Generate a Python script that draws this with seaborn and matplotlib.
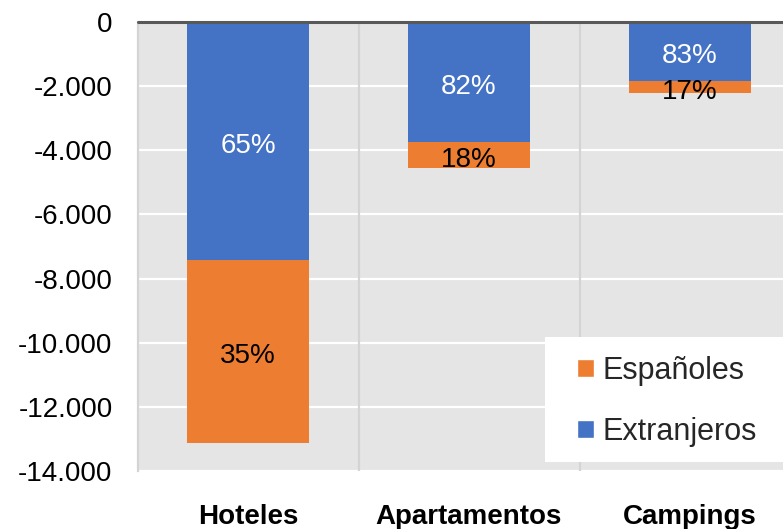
import matplotlib
matplotlib.use("Agg")
import matplotlib.pyplot as plt
import matplotlib.ticker as mticker
from matplotlib.patches import Patch, Rectangle
import seaborn as sns
import pandas as pd

categories = ["Hoteles", "Apartamentos", "Campings"]
extranjeros = [7435, 3745, 1840]
espanoles = [5680, 810, 365]
pct_extranjeros = ["65%", "82%", "83%"]
pct_espanoles = ["35%", "18%", "17%"]
yticks = [0, -2000, -4000, -6000, -8000, -10000, -12000, -14000]

ORANGE = "#ED7D31"
BLUE = "#4472C4"

sns.set_theme(style="white")
plt.rcParams["font.family"] = ["Liberation Sans", "DejaVu Sans"]

df = pd.DataFrame({
    "cat": categories,
    "total": [-(a + b) for a, b in zip(extranjeros, espanoles)],
    "ext": [-a for a in extranjeros],
})

W, H = 783, 529
L, T, B = 137.5, 22, 471
fig = plt.figure(figsize=(W / 100, H / 100), dpi=100)
ax = fig.add_axes([L / W, (H - B) / H, 1 - L / W, (B - T) / H])
ax.set_facecolor("#E5E5E5")

sns.barplot(data=df, x="cat", y="total", color=ORANGE, width=0.555,
            saturation=1, ax=ax, zorder=3, linewidth=0)
sns.barplot(data=df, x="cat", y="ext", color=BLUE, width=0.555,
            saturation=1, ax=ax, zorder=4, linewidth=0)

ax.set_xlim(-0.5, -0.5 + (W - L) / 221)
ax.set_ylim(-14000, 0)
ax.set_yticks(yticks)
ax.yaxis.set_major_formatter(mticker.FuncFormatter(
    lambda v, p: f"{int(v):,}".replace(",", ".")))
ax.grid(axis="y", color="white", linewidth=1.6, zorder=1)
ax.set_axisbelow(True)
for xv in [0.5, 1.5]:
    ax.axvline(xv, color="#D4D4D4", linewidth=1.6, zorder=1.5)
ax.axhline(0, color="#595959", linewidth=2.2, zorder=6, clip_on=False)

for s in ["right", "bottom", "top"]:
    ax.spines[s].set_visible(False)
ax.spines["left"].set_color("#D4D4D4")
ax.spines["left"].set_linewidth(1.6)

ax.set_xlabel("")
ax.set_ylabel("")
ax.tick_params(axis="y", length=0, pad=18, labelsize=20, labelcolor="black")
ax.tick_params(axis="x", length=0, pad=24, labelsize=20, labelcolor="black")
for t in ax.get_xticklabels():
    t.set_fontweight("bold")

for i in range(len(categories)):
    ext = extranjeros[i]
    tot = extranjeros[i] + espanoles[i]
    ax.annotate(pct_extranjeros[i], (i, -ext / 2), xytext=(0, -3.5),
                textcoords="offset points", ha="center", va="center",
                color="white", fontsize=20, zorder=7)
    ax.annotate(pct_espanoles[i], (i, -(ext + tot) / 2), xytext=(0, -3.5),
                textcoords="offset points", ha="center", va="center",
                color="black", fontsize=20, zorder=7)

def ax_x(px):
    return (px - L) / (W - L)

def ax_y(py):
    return (B - py) / (B - T)

box = Rectangle((ax_x(545), ax_y(462)), 1.0 - ax_x(545), ax_y(337) - ax_y(462),
                transform=ax.transAxes, facecolor="white", edgecolor="none",
                zorder=8)
ax.add_patch(box)

handles = [Patch(facecolor=ORANGE, label="Españoles"),
           Patch(facecolor=BLUE, label="Extranjeros")]
leg = ax.legend(handles=handles, loc="upper left",
                bbox_to_anchor=(ax_x(577), ax_y(356)),
                frameon=False, fontsize=22, handlelength=0.55,
                handleheight=0.55, handletextpad=0.3, labelspacing=1.0,
                borderpad=0, borderaxespad=0)
leg.set_zorder(9)

fig.savefig("out.png", dpi=100)
